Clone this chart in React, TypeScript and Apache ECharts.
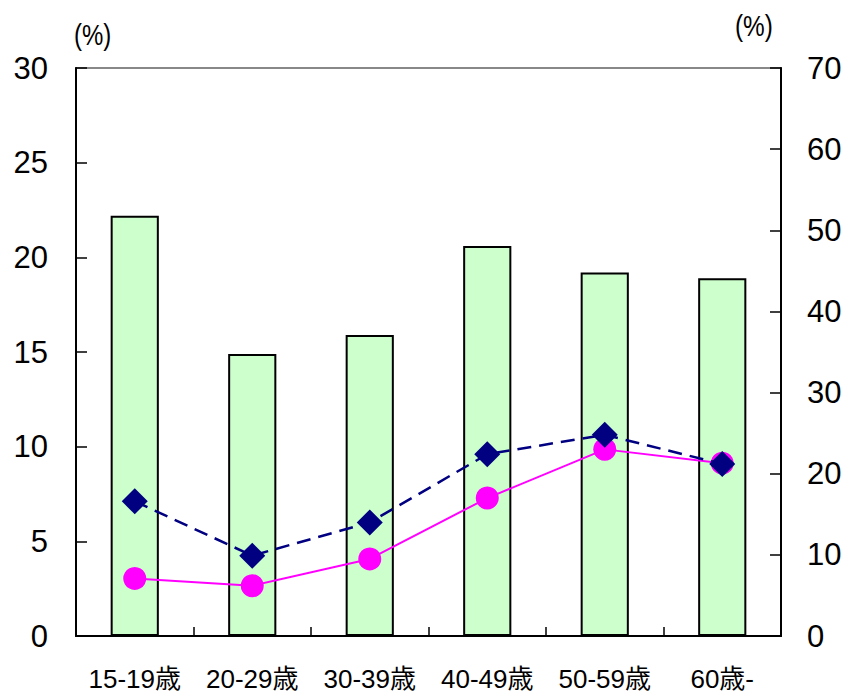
import React, { useEffect, useRef } from "react";
import * as echarts from "echarts";

// Age groups along the horizontal axis
const ageGroups = ["15-19歳", "20-29歳", "30-39歳", "40-49歳", "50-59歳", "60歳-"];

// Bars, read against the left axis (%)
const barValues = [22.2, 14.9, 15.9, 20.6, 19.2, 18.9];

// Lines, read against the right axis (%)
const diamondValues = [16.6, 9.9, 14.0, 22.4, 24.8, 21.2];
const circleValues = [7.1, 6.2, 9.5, 17.0, 23.0, 21.3];

const leftTicks = { min: 0, max: 30, interval: 5 };
const rightTicks = { min: 0, max: 70, interval: 10 };

const FONT = '"Liberation Sans", Arial, "Noto Sans CJK JP", sans-serif';

export default function App() {
  const ref = useRef<HTMLDivElement>(null);

  useEffect(() => {
    document.body.style.margin = "0";
    if (!ref.current) return;
    const chart = echarts.init(ref.current, undefined, { renderer: "svg" });

    const yAxisCommon = {
      type: "value" as const,
      splitLine: { show: false },
      axisLine: { show: true, lineStyle: { color: "#000", width: 2 } },
      axisTick: { show: true, inside: true, length: 11, lineStyle: { color: "#000", width: 1.5 } },
      axisLabel: { color: "#000", fontSize: 31, fontFamily: FONT },
    };

    chart.setOption({
      animation: false,
      backgroundColor: "#fff",
      grid: {
        left: 76,
        right: 66,
        top: 68,
        bottom: 59,
        show: true,
        borderColor: "#888",
        borderWidth: 2,
        containLabel: false,
      },
      xAxis: {
        type: "category",
        data: ageGroups,
        axisLine: { show: true, lineStyle: { color: "#000", width: 2 } },
        axisTick: { show: true, inside: true, length: 9, alignWithLabel: false, lineStyle: { color: "#000", width: 1.5 } },
        axisLabel: { color: "#000", fontSize: 26, fontFamily: FONT, margin: 30, interval: 0 },
      },
      yAxis: [
        {
          ...yAxisCommon,
          ...leftTicks,
          position: "left",
          axisLabel: { ...yAxisCommon.axisLabel, margin: 28 },
        },
        {
          ...yAxisCommon,
          ...rightTicks,
          position: "right",
          axisLabel: { ...yAxisCommon.axisLabel, margin: 26 },
        },
      ],
      graphic: [
        {
          type: "text",
          x: 74,
          y: 19,
          scaleX: 0.8,
          style: { text: "(%)", fontSize: 30, fontFamily: FONT, fill: "#000", verticalAlign: "top" },
        },
        {
          type: "text",
          x: 735,
          y: 12,
          scaleX: 0.84,
          style: { text: "(%)", fontSize: 29, fontFamily: FONT, fill: "#000", verticalAlign: "top" },
        },
      ],
      series: [
        {
          type: "bar",
          yAxisIndex: 0,
          data: barValues,
          barWidth: "41%",
          itemStyle: { color: "#CCFFCC", borderColor: "#000", borderWidth: 2 },
          z: 2,
        },
        {
          type: "line",
          yAxisIndex: 1,
          data: circleValues,
          symbol: "circle",
          symbolSize: 23,
          lineStyle: { color: "#FF00FF", width: 2 },
          itemStyle: { color: "#FF00FF" },
          z: 3,
        },
        {
          type: "line",
          yAxisIndex: 1,
          data: diamondValues,
          symbol: "diamond",
          symbolSize: [26, 26],
          lineStyle: { color: "#000080", width: 2.5, type: [14, 8] },
          itemStyle: { color: "#000080" },
          z: 4,
        },
      ],
    });

    return () => chart.dispose();
  }, []);

  return <div ref={ref} style={{ width: 847, height: 695 }} />;
}
